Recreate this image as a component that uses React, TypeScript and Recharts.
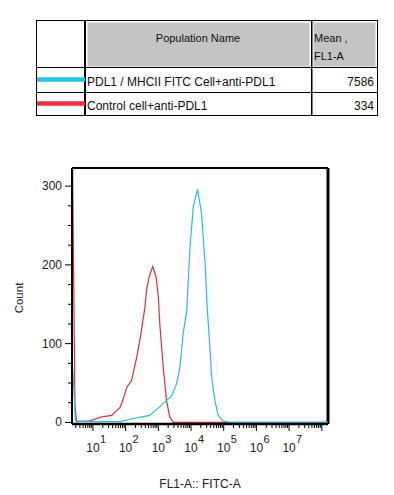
import { Line, LineChart, ReferenceLine, XAxis, YAxis } from 'recharts';

// populations shown in the table above the plot
const populationNames = ['PDL1 / MHCII FITC Cell+anti-PDL1', 'Control cell+anti-PDL1'];
const populationMeans = [7586, 334];
const populationColors = ['#27c3e6', '#e8333b'];

// histogram traces, x in log10(FL1-A)
const sampleLog = [
	0.36, 0.42, 0.46, 0.81, 1.83, 2.23, 2.49, 2.74, 2.9, 3.1, 3.25, 3.41, 3.56, 3.66, 3.76,
	3.87, 3.97, 4.07, 4.2, 4.32, 4.43, 4.5, 4.55, 4.63, 4.73, 4.83, 4.98, 5.19, 8.19,
];
const sampleCount = [
	82, 40, 2, 1, 1, 5, 7, 9, 15, 22, 28, 34, 49, 70, 113, 142, 223, 274, 296, 266, 202, 142,
	113, 58, 28, 9, 2, 0, 0,
];
const controlLog = [
	0.36, 0.45, 0.5, 0.91, 1.27, 1.57, 1.83, 1.92, 2.04, 2.18, 2.34, 2.47, 2.59, 2.64, 2.72,
	2.83, 2.93, 3.0, 3.05, 3.15, 3.25, 3.35, 3.46, 8.19,
];
const controlCount = [
	400, 22, 1, 2, 7, 9, 19, 29, 45, 53, 83, 113, 146, 168, 185, 198, 185, 160, 122, 70, 28, 7,
	0, 0,
];

const decades = [1, 2, 3, 4, 5, 6, 7];
const countTicks = [0, 25, 50, 75, 100, 125, 150, 175, 200, 225, 250, 275, 300];

const X_MIN = 0.36;
const X_MAX = 8.19;
const Y_MIN = -2;
const Y_MAX = 323;

const sampleData = sampleLog.map((x, i) => ({ x, count: sampleCount[i] }));
const controlData = controlLog.map((x, i) => ({ x, count: controlCount[i] }));

const logTicks: number[] = [];
for (let d = 0; d <= 8; d++) {
	for (let k = 1; k <= 9; k++) {
		const v = d + Math.log10(k);
		if (v >= X_MIN && v <= X_MAX) logTicks.push(v);
	}
}

const font = '"Liberation Sans", Arial, sans-serif';

const XTick = (props: any) => {
	const { x, y, payload } = props;
	const v = payload.value as number;
	const major = Math.abs(v - Math.round(v)) < 1e-6;
	return (
		<g>
			<line stroke="#000" x1={x} x2={x} y1={y} y2={y + (major ? 7 : 4)} />
			{major && decades.includes(Math.round(v)) && (
				<g fill="#222" fontFamily={font}>
					<text fontSize={12} textAnchor="middle" x={x} y={y + 28}>
						10
					</text>
					<text fontSize={11} x={x + 7} y={y + 19}>
						{Math.round(v)}
					</text>
				</g>
			)}
		</g>
	);
};

const YTick = (props: any) => {
	const { x, y, payload } = props;
	const v = payload.value as number;
	const major = v % 100 === 0;
	return (
		<g>
			<line stroke="#000" x1={x - (major ? 7 : 4)} x2={x} y1={y} y2={y} />
			{major && (
				<text
					fill="#222"
					fontFamily={font}
					fontSize={12}
					textAnchor="end"
					x={x - 10}
					y={y + 4}
				>
					{v}
				</text>
			)}
		</g>
	);
};

const PopulationTable = () => (
	<svg
		height={130}
		style={{ left: 0, position: 'absolute', top: 0 }}
		width={394}
	>
		<g fontFamily={font}>
			<rect fill="#c4c4c4" height={44} stroke="#e2e2e2" width={222} x={87.5} y={22.5} />
			<rect fill="#c4c4c4" height={44} stroke="#e2e2e2" width={62} x={313.5} y={22.5} />
			<rect fill="none" height={95} stroke="#000" width={341} x={36.5} y={20.5} />
			<line stroke="#000" strokeWidth={2} x1={85} x2={85} y1={20} y2={116} />
			<line stroke="#000" strokeWidth={1.5} x1={311.75} x2={311.75} y1={20} y2={116} />
			<line stroke="#000" x1={36} x2={378} y1={67.5} y2={67.5} />
			<line stroke="#000" x1={36} x2={378} y1={92.5} y2={92.5} />
			<text fill="#111" fontSize={11} textAnchor="middle" x={198} y={42}>
				Population Name
			</text>
			<text fill="#111" fontSize={11} x={314} y={42}>
				Mean ,
			</text>
			<text fill="#111" fontSize={11} x={314} y={60}>
				FL1-A
			</text>
			{populationNames.map((name, i) => (
				<g key={name}>
					<line
						stroke={populationColors[i]}
						strokeWidth={4.5}
						x1={37}
						x2={85}
						y1={79.5 + i * 24}
						y2={79.5 + i * 24}
					/>
					<text fill="#111" fontSize={12} x={87} y={86 + i * 23.5}>
						{name}
					</text>
					<text fill="#111" fontSize={12} textAnchor="end" x={374} y={86 + i * 23.5}>
						{populationMeans[i]}
					</text>
				</g>
			))}
		</g>
	</svg>
);

export default function App() {
	return (
		<div style={{ height: 495, left: 0, position: 'absolute', top: 0, width: 394 }}>
			<LineChart
				height={495}
				margin={{ bottom: 1, left: 12, right: 66, top: 168 }}
				style={{ left: 0, position: 'absolute', top: 0 }}
				width={394}
			>
				<XAxis
					allowDataOverflow
					axisLine={{ stroke: '#000', strokeWidth: 2.5 }}
					dataKey="x"
					domain={[X_MIN, X_MAX]}
					height={70}
					interval={0}
					label={() => (
						<text
							fill="#222"
							fontFamily={font}
							fontSize={12}
							textAnchor="middle"
							x={200}
							y={488}
						>
							FL1-A:: FITC-A
						</text>
					)}
					tick={<XTick />}
					tickLine={false}
					tickMargin={0}
					tickSize={0}
					ticks={logTicks}
					type="number"
				/>
				<YAxis
					allowDataOverflow
					axisLine={{ stroke: '#000', strokeWidth: 2 }}
					domain={[Y_MIN, Y_MAX]}
					interval={0}
					label={() => (
						<text
							fill="#222"
							fontFamily={font}
							fontSize={11.5}
							textAnchor="middle"
							transform="rotate(-90 23 298)"
							x={23}
							y={298}
						>
							Count
						</text>
					)}
					tick={<YTick />}
					tickLine={false}
					tickMargin={0}
					tickSize={0}
					ticks={countTicks}
					type="number"
					width={60}
				/>
				<ReferenceLine stroke="#000" strokeWidth={2} y={Y_MAX} />
				<ReferenceLine stroke="#000" strokeWidth={3} x={X_MAX} />
				<Line
					data={controlData}
					dataKey="count"
					dot={false}
					isAnimationActive={false}
					stroke="#d8323f"
					strokeWidth={1.2}
					type="linear"
				/>
				<Line
					data={sampleData}
					dataKey="count"
					dot={false}
					isAnimationActive={false}
					stroke="#22c0da"
					strokeWidth={1.2}
					type="linear"
				/>
			</LineChart>
			<PopulationTable />
		</div>
	);
}
